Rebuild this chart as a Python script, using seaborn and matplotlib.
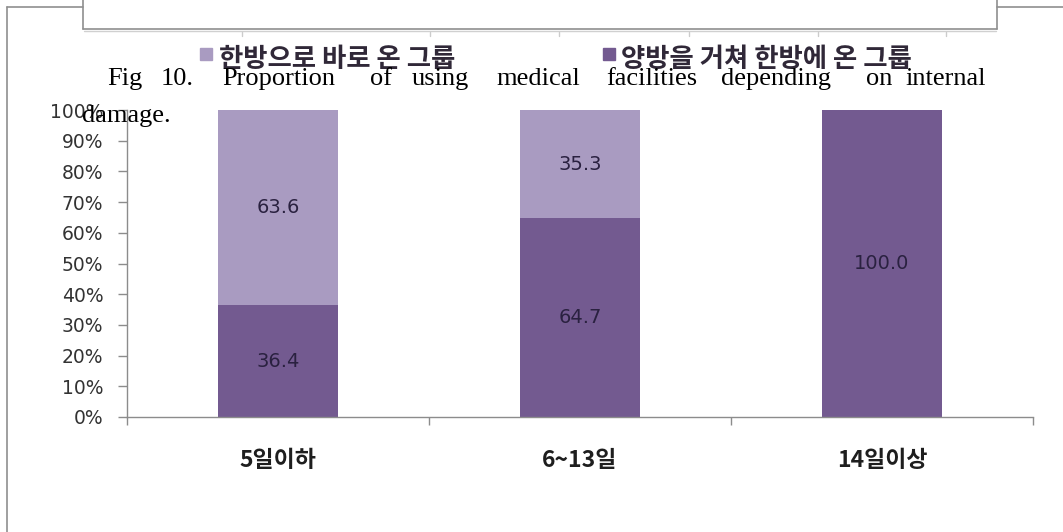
import matplotlib
matplotlib.use('Agg')
import matplotlib.pyplot as plt
import seaborn as sns
import pandas as pd
from matplotlib.lines import Line2D
from matplotlib.patches import Rectangle

# ---------------- data ----------------
categories = ['5일이하', '6~13일', '14일이상']
series_names = ['한방으로 바로 온 그룹', '양방을 거쳐 한방에 온 그룹']
direct_values = [63.6, 35.3, 0.0]      # 한방으로 바로 온 그룹 (light)
via_values = [36.4, 64.7, 100.0]       # 양방을 거쳐 한방에 온 그룹 (dark)
y_ticks = [0, 10, 20, 30, 40, 50, 60, 70, 80, 90, 100]
y_tick_labels = ['0%', '10%', '20%', '30%', '40%', '50%', '60%', '70%', '80%', '90%', '100%']
caption_words = ['Fig', '10.', 'Proportion', 'of', 'using', 'medical',
                 'facilities', 'depending', 'on', 'internal']
caption_line2 = 'damage.'

# ---------------- style ----------------
W, H = 1063, 532
sns.set_theme(style='white')
plt.rcParams['font.family'] = ['DejaVu Sans', 'Noto Sans CJK KR']
KR = ['Noto Sans CJK KR', 'DejaVu Sans']
LIGHT = '#A99BC1'
DARK = '#735A90'
GREY = '#8c8c8c'


def fx(x):
    return x / W


def fy(y):
    return 1 - y / H


df = pd.DataFrame({'category': categories, 'direct': direct_values, 'via': via_values})
df['total'] = df['direct'] + df['via']

fig = plt.figure(figsize=(W / 100, H / 100), dpi=100)
fig.patch.set_facecolor('white')
ax = fig.add_axes([fx(127), fy(417), (1033 - 127) / W, (417 - 110) / H])
ax.set_facecolor('white')

sns.barplot(data=df, x='category', y='total', order=categories, color=LIGHT,
            width=0.4, saturation=1, linewidth=0, errorbar=None, ax=ax)
sns.barplot(data=df, x='category', y='via', order=categories, color=DARK,
            width=0.4, saturation=1, linewidth=0, errorbar=None, ax=ax)

lab_color = '#2a2140'
for i, (d, v) in enumerate(zip(direct_values, via_values)):
    if v > 0:
        ax.text(i, v / 2, f'{v:.1f}', ha='center', va='center', fontsize=14,
                color=lab_color, family='DejaVu Sans')
    if d > 0:
        ax.text(i, v + d / 2, f'{d:.1f}', ha='center', va='center', fontsize=14,
                color=lab_color, family='DejaVu Sans')

ax.set_ylim(0, 100)
ax.set_xlim(-0.5, 2.5)
ax.set_yticks(y_ticks, y_tick_labels)
ax.set_xticks(range(len(categories)), categories)
ax.set_xticks([-0.5, 0.5, 1.5, 2.5], minor=True)
ax.set_xlabel('')
ax.set_ylabel('')

ax.tick_params(axis='y', which='major', left=True, length=6.5, width=1, color=GREY,
               direction='out', pad=10.5, labelsize=13.5, labelcolor='#333333')
ax.tick_params(axis='x', which='major', bottom=False, length=0, pad=23)
ax.tick_params(axis='x', which='minor', bottom=True, length=6, width=1, color=GREY,
               direction='out')
for lab in ax.get_xticklabels():
    lab.set_fontfamily(KR)
    lab.set_fontweight('bold')
    lab.set_fontsize(16.5)
    lab.set_color('#1e1e1e')

for s in ['top', 'right']:
    ax.spines[s].set_visible(False)
for s in ['left', 'bottom']:
    ax.spines[s].set_color(GREY)
    ax.spines[s].set_linewidth(1)

# ---------------- legend ----------------
for (sx, col, tx, name) in [(200, LIGHT, 219, series_names[0]),
                            (603, DARK, 621, series_names[1])]:
    fig.patches.append(Rectangle((fx(sx), fy(60)), 12 / W, 12 / H,
                                 transform=fig.transFigure, color=col, zorder=3))
    fig.text(fx(tx), fy(60), name, family=KR, fontsize=19, fontweight='bold',
             color='#302838', va='center', ha='left', zorder=3)

# ---------------- caption (overlapping text) ----------------
word_x = [107, 161, 222, 370, 412, 496, 606, 721, 866, 905]
for w, x in zip(caption_words, word_x):
    fig.text(fx(x), fy(85), w, family='Liberation Serif', fontsize=19,
             color='black', va='baseline', ha='left', zorder=5)
fig.text(fx(82), fy(122), caption_line2, family='Liberation Serif', fontsize=19,
         color='black', va='baseline', ha='left', zorder=5)

# ---------------- frame / page decorations ----------------
lc = '#8f8f8f'
frame = [
    ((7, 7), (7, 532)),
    ((7, 83), (7, 7)),
    ((997, 1063), (7, 7)),
    ((83, 83), (0, 29)),
    ((997, 997), (0, 29)),
    ((83, 997), (29, 29)),
]
for xs, ys in frame:
    fig.lines.append(Line2D([fx(x) for x in xs], [fy(y) for y in ys],
                            transform=fig.transFigure, color=lc, lw=1.2))
fig.lines.append(Line2D([fx(84), fx(996)], [fy(31), fy(31)],
                        transform=fig.transFigure, color='#d0d0d0', lw=1))
for tx in [242, 430, 559, 689, 818, 946]:
    fig.lines.append(Line2D([fx(tx), fx(tx)], [fy(32), fy(36)],
                            transform=fig.transFigure, color='#cccccc', lw=1))

fig.savefig('out.png', dpi=100, facecolor='white')
